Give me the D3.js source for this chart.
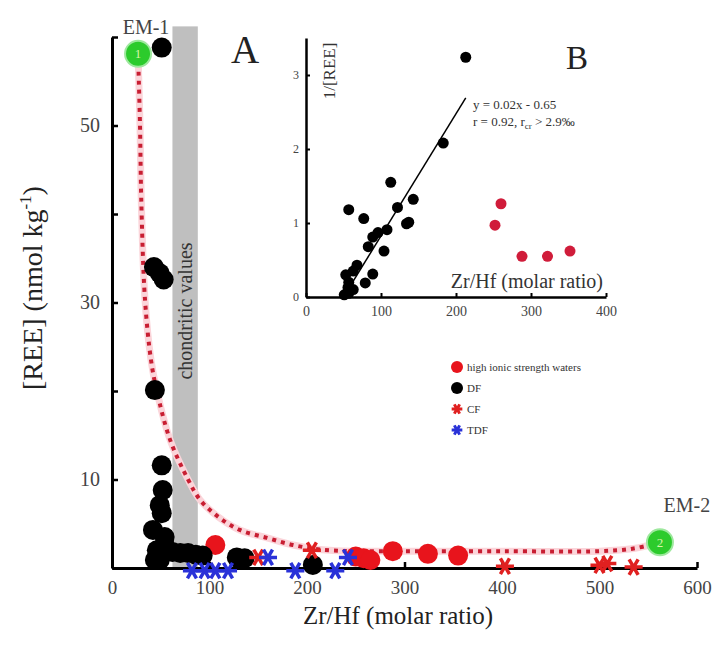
<!DOCTYPE html>
<html lang="en">
<head>
<meta charset="utf-8">
<title>Zr/Hf vs REE</title>
<script src="https://cdn.jsdelivr.net/npm/d3@7"></script>
<style>
  body { margin: 0; background: #fff; }
  svg { font-family: "Liberation Serif", "Times New Roman", serif; }
  .axis path, .axis line { stroke: #000; }
  .axis text { fill: #444; }
</style>
</head>
<body>
<script>

// ---- main panel data (Zr/Hf molar ratio, [REE] nmol/kg) ----
var xTicks = [0, 100, 200, 300, 400, 500, 600];
var yTicks = [0, 10, 20, 30, 40, 50, 60];
var yTickLabels = [10, 30, 50];

var chondritic = [62, 88];   // gray band
var bandTop = 61.2;

var hisw = [[106, 2.6], [250, 1.3], [258, 1.1], [265, 0.9], [288, 1.9], [324, 1.6], [355, 1.4]];
var df = [[51, 58.8], [43, 34], [49, 33.3], [53, 32.6], [44, 20.1], [51, 11.6], [52, 8.8],
          [49, 7.1], [51, 6.2], [42, 4.3], [54, 3.5], [46, 2.0], [49, 0.9], [44, 0.9],
          [54, 2.6], [62, 1.8], [70, 1.7], [78, 1.7], [86, 1.5], [93, 1.4],
          [128, 1.2], [136, 1.1], [206, 0.35]];
var cf = [[150, 1.2], [205, 2.0], [403, 0.2], [500, 0.3], [508, 0.5], [535, 0.1]];
var tdf = [[82, -0.3], [95, -0.3], [106, -0.3], [119, -0.3], [160, 1.2], [188, -0.3], [229, -0.3], [242, 1.2]];

var endMembers = [
  { label: "EM-1", n: "1", x: 26.7, y: 58.1 },
  { label: "EM-2", n: "2", x: 562, y: 2.9 }
];

// mixing curve
var mixCurve = [[26.7, 58.1], [28.7, 50.1], [30, 41.7], [33.8, 30.4], [40, 23.5], [46, 20],
                [59.5, 14.5], [78, 10], [90.3, 7.7], [108.7, 5.8], [131, 4.3],
                [159, 3.4], [185.6, 2.6], [213, 2.1], [247, 1.9], [300, 1.9], [400, 1.9],
                [500, 1.9], [535, 2.2], [562, 2.9]];

// ---- inset B data (Zr/Hf, 1/[REE]) ----
var insetXTicks = [0, 100, 200, 300, 400];
var insetYTicks = [0, 1, 2, 3];
var insetDF = [[213, 3.24], [183, 2.08], [113, 1.55], [143, 1.32], [122, 1.21], [57, 1.18],
               [77, 1.06], [134, 0.99], [137, 1.01], [108, 0.91], [96, 0.87], [89, 0.81],
               [83, 0.68], [104, 0.62], [68, 0.43], [63, 0.35], [89, 0.31], [53, 0.30],
               [79, 0.19], [57, 0.2], [56, 0.13], [57, 0.05], [51, 0.03], [63, 0.1]];
var insetHisw = [[260, 1.26], [252, 0.97], [288, 0.55], [322, 0.55], [352, 0.62]];
var insetFit = [[56, 0.1], [213, 2.69]];

var legendItems = [
  { name: "high ionic strength waters", type: "hisw" },
  { name: "DF", type: "df" },
  { name: "CF", type: "cf" },
  { name: "TDF", type: "tdf" }
];

var width = 715, height = 645;

var svg = d3.select("body").append("svg")
  .attr("width", width)
  .attr("height", height);

var x = d3.scaleLinear().domain([0, 600]).range([112, 697]);
var y = d3.scaleLinear().domain([0, 60]).range([568, 37]);

// chondritic band
svg.append("rect")
  .attr("x", x(chondritic[0]))
  .attr("width", x(chondritic[1]) - x(chondritic[0]))
  .attr("y", y(bandTop))
  .attr("height", y(0) - y(bandTop))
  .attr("fill", "#bfbfbf");

svg.append("text")
  .attr("transform", "translate(" + (x((chondritic[0] + chondritic[1]) / 2) + 7) + "," + 311 + ") rotate(-90)")
  .attr("text-anchor", "middle")
  .attr("font-size", 20)
  .attr("fill", "#333")
  .text("chondritic values");

// axes
var xAxis = d3.axisBottom(x)
  .tickValues(xTicks)
  .tickSizeInner(-6)
  .tickSizeOuter(0)
  .tickPadding(13)
  .tickFormat(d3.format("d"));

var yAxis = d3.axisLeft(y)
  .tickValues(yTicks)
  .tickSizeInner(-6)
  .tickSizeOuter(0)
  .tickPadding(12)
  .tickFormat(function(d) { return yTickLabels.indexOf(d) >= 0 ? d : ""; });

var gx = svg.append("g")
  .attr("class", "axis")
  .attr("transform", "translate(0," + y(0) + ")")
  .call(xAxis);
gx.select(".domain").attr("stroke-width", 3);
gx.selectAll(".tick line").attr("stroke-width", 2.5);
gx.selectAll("text").attr("font-size", 19).attr("font-family", "Liberation Serif");

var gy = svg.append("g")
  .attr("class", "axis")
  .attr("transform", "translate(" + x(0) + ",0)")
  .call(yAxis);
gy.select(".domain").attr("stroke-width", 3);
gy.selectAll(".tick line").attr("stroke-width", 2.5);
gy.selectAll("text").attr("font-size", 20).attr("font-family", "Liberation Serif");

// axis titles
var yl = svg.append("text")
  .attr("transform", "translate(42,288) rotate(-90)")
  .attr("text-anchor", "middle")
  .attr("font-size", 28)
  .attr("fill", "#222");
yl.append("tspan").text("[REE] (nmol kg");
yl.append("tspan").attr("font-size", 17).attr("dy", -11).text("-1");
yl.append("tspan").attr("dy", 11).text(")");

svg.append("text")
  .attr("x", 398)
  .attr("y", 624)
  .attr("text-anchor", "middle")
  .attr("font-size", 25)
  .attr("fill", "#222")
  .text("Zr/Hf (molar ratio)");

svg.append("text")
  .attr("x", 245)
  .attr("y", 63)
  .attr("text-anchor", "middle")
  .attr("font-size", 39)
  .attr("fill", "#222")
  .text("A");

// mixing curve
var line = d3.line()
  .x(function(d) { return x(d[0]); })
  .y(function(d) { return y(d[1]); })
  .curve(d3.curveCatmullRom);

svg.append("path")
  .datum(mixCurve)
  .attr("d", line)
  .attr("fill", "none")
  .attr("stroke", "#fbd5da")
  .attr("stroke-width", 7);

svg.append("path")
  .datum(mixCurve)
  .attr("d", line)
  .attr("fill", "none")
  .attr("stroke", "#c81e32")
  .attr("stroke-width", 4)
  .attr("stroke-dasharray", "4,5");

// marker helpers
var star = d3.symbol().type(d3.symbolAsterisk).size(230);

function drawCircles(g, data, r, fill) {
  g.selectAll(null)
    .data(data)
    .enter().append("circle")
    .attr("cx", function(d) { return x(d[0]); })
    .attr("cy", function(d) { return y(d[1]); })
    .attr("r", r)
    .attr("fill", fill);
}

function drawStars(g, data, color) {
  g.selectAll(null)
    .data(data)
    .enter().append("path")
    .attr("d", star)
    .attr("transform", function(d) { return "translate(" + x(d[0]) + "," + y(d[1]) + ") rotate(90)"; })
    .attr("fill", "none")
    .attr("stroke", color)
    .attr("stroke-width", 3.5);
}

var marks = svg.append("g");
drawCircles(marks, hisw, 10, "#e8141c");
drawCircles(marks, df, 10, "#000");
drawStars(marks, cf, "#e02020");
drawStars(marks, tdf, "#2a32d8");

// end members
var em = svg.selectAll(".em")
  .data(endMembers)
  .enter().append("g")
  .attr("class", "em")
  .attr("transform", function(d) { return "translate(" + x(d.x) + "," + y(d.y) + ")"; });

em.append("circle")
  .attr("r", 13)
  .attr("fill", "#2ccb2c")
  .attr("stroke", "#9ee89e")
  .attr("stroke-width", 2);

em.append("text")
  .attr("text-anchor", "middle")
  .attr("dy", "0.35em")
  .attr("font-size", 13)
  .attr("fill", "#d8f5a8")
  .text(function(d) { return d.n; });

em.append("text")
  .attr("x", function(d, i) { return i === 0 ? 8 : 27; })
  .attr("y", function(d, i) { return i === 0 ? -20 : -30; })
  .attr("text-anchor", "middle")
  .attr("font-size", 20)
  .attr("fill", "#444")
  .text(function(d) { return d.label; });

// ---- inset B ----
var ix = d3.scaleLinear().domain([0, 400]).range([306, 606]);
var iy = d3.scaleLinear().domain([0, 3.5]).range([297, 38]);

var inset = svg.append("g");

var ixAxis = d3.axisBottom(ix)
  .tickValues(insetXTicks)
  .tickSizeInner(-4)
  .tickSizeOuter(0)
  .tickPadding(9)
  .tickFormat(d3.format("d"));

var iyAxis = d3.axisLeft(iy)
  .tickValues(insetYTicks)
  .tickSizeInner(-4)
  .tickSizeOuter(0)
  .tickPadding(7)
  .tickFormat(d3.format("d"));

var gix = inset.append("g")
  .attr("class", "axis")
  .attr("transform", "translate(0," + iy(0) + ")")
  .call(ixAxis);
gix.select(".domain").attr("stroke-width", 2.5);
gix.selectAll(".tick line").attr("stroke-width", 2);
gix.selectAll("text").attr("font-size", 14).attr("font-family", "Liberation Serif");

var giy = inset.append("g")
  .attr("class", "axis")
  .attr("transform", "translate(" + ix(0) + ",0)")
  .call(iyAxis);
giy.select(".domain").attr("stroke-width", 2.5);
giy.selectAll(".tick line").attr("stroke-width", 2);
giy.selectAll("text").attr("font-size", 12).attr("font-family", "Liberation Serif");

inset.append("text")
  .attr("transform", "translate(335,71) rotate(-90)")
  .attr("text-anchor", "middle")
  .attr("font-size", 17)
  .attr("fill", "#333")
  .text("1/[REE]");

inset.append("text")
  .attr("x", 603)
  .attr("y", 288)
  .attr("text-anchor", "end")
  .attr("font-size", 20)
  .attr("fill", "#333")
  .text("Zr/Hf (molar ratio)");

inset.append("text")
  .attr("x", 577)
  .attr("y", 69)
  .attr("text-anchor", "middle")
  .attr("font-size", 33)
  .attr("fill", "#222")
  .text("B");

inset.append("path")
  .datum(insetFit)
  .attr("d", d3.line().x(function(d) { return ix(d[0]); }).y(function(d) { return iy(d[1]); }))
  .attr("stroke", "#000")
  .attr("stroke-width", 1.5)
  .attr("fill", "none");

var eq = inset.append("g")
  .attr("font-size", 13)
  .attr("fill", "#333");
eq.append("text").attr("x", 473).attr("y", 109).text("y = 0.02x - 0.65");
var eq2 = eq.append("text").attr("x", 473).attr("y", 126);
eq2.append("tspan").text("r = 0.92, r");
eq2.append("tspan").attr("font-size", 9).attr("dy", 3).text("cr");
eq2.append("tspan").attr("dy", -3).text(" > 2.9‰");

inset.selectAll(null)
  .data(insetDF)
  .enter().append("circle")
  .attr("cx", function(d) { return ix(d[0]); })
  .attr("cy", function(d) { return iy(d[1]); })
  .attr("r", 5.5)
  .attr("fill", "#000");

inset.selectAll(null)
  .data(insetHisw)
  .enter().append("circle")
  .attr("cx", function(d) { return ix(d[0]); })
  .attr("cy", function(d) { return iy(d[1]); })
  .attr("r", 5.5)
  .attr("fill", "#d01c3a");

// ---- legend ----
var legend = svg.append("g")
  .attr("transform", "translate(457,367)");

var li = legend.selectAll("g")
  .data(legendItems)
  .enter().append("g")
  .attr("transform", function(d, i) { return "translate(0," + (i * 21) + ")"; });

li.each(function(d) {
  var g = d3.select(this);
  if (d.type === "hisw" || d.type === "df") {
    g.append("circle").attr("r", 6).attr("fill", d.type === "hisw" ? "#e8141c" : "#000");
  } else {
    g.append("path")
      .attr("d", d3.symbol().type(d3.symbolAsterisk).size(80))
      .attr("transform", "rotate(90)")
      .attr("fill", "none")
      .attr("stroke", d.type === "cf" ? "#e02020" : "#2a32d8")
      .attr("stroke-width", 3);
  }
});

li.append("text")
  .attr("x", 10)
  .attr("dy", "0.35em")
  .attr("font-size", 11)
  .attr("fill", "#333")
  .text(function(d) { return d.name; });

</script>
</body>
</html>
